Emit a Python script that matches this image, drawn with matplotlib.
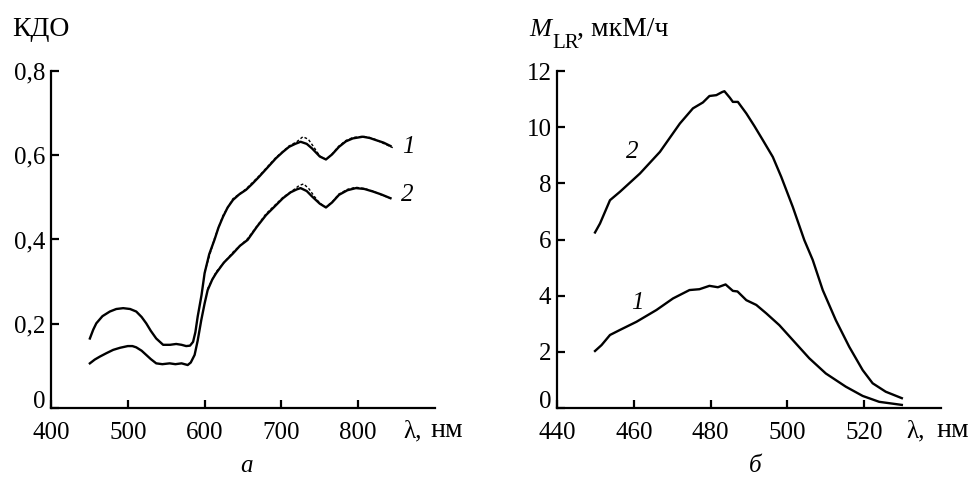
import matplotlib
matplotlib.use("Agg")
import matplotlib.pyplot as plt

# ---------------- data: panel (a) ----------------
lam_a1 = [450.6, 455, 459, 467, 476.6, 485, 494, 503, 511, 518, 524, 530, 537, 546,
          555, 563, 570, 576, 581, 585, 588, 591, 596, 600, 606, 613, 618, 624, 630, 637,
          645, 654, 662, 671, 682, 693, 702, 710, 718, 725, 733, 740, 750, 758, 766,
          775, 784, 793, 806, 815, 823, 833, 842]
kdo_1 = [0.165, 0.186, 0.201, 0.218, 0.229, 0.235, 0.237, 0.235, 0.229, 0.216, 0.201, 0.183, 0.165, 0.150,
         0.150, 0.152, 0.150, 0.147, 0.148, 0.157, 0.180, 0.217, 0.268, 0.320, 0.365, 0.400, 0.428, 0.454, 0.476, 0.494,
         0.507, 0.518, 0.532, 0.549, 0.571, 0.593, 0.608, 0.620, 0.627, 0.632, 0.627, 0.616, 0.597, 0.590, 0.602,
         0.620, 0.633, 0.640, 0.644, 0.641, 0.636, 0.630, 0.622]

lam_a2 = [450.6, 457, 463.6, 472, 481, 490, 500, 506, 511, 518, 524, 530, 537, 545,
          554.5, 562, 570, 578, 582, 587, 591, 595.7, 600, 604, 610, 615, 625, 637,
          646, 656, 668, 680, 691, 702, 712, 720, 725, 733, 740, 750, 758, 766,
          775, 786, 797, 808, 819, 830, 842]
kdo_2 = [0.106, 0.115, 0.122, 0.130, 0.138, 0.143, 0.147, 0.147, 0.144, 0.136, 0.126, 0.116, 0.106, 0.104,
         0.106, 0.104, 0.106, 0.102, 0.108, 0.126, 0.160, 0.209, 0.248, 0.280, 0.305, 0.320, 0.345, 0.367,
         0.385, 0.399, 0.430, 0.458, 0.478, 0.498, 0.512, 0.519, 0.522, 0.515, 0.502, 0.485, 0.476, 0.488,
         0.506, 0.517, 0.522, 0.520, 0.514, 0.507, 0.498]

lam_a1d = [600, 613, 624, 637, 654, 671, 693, 710, 720, 728, 735, 742, 750, 758, 766,
           775, 784, 793, 806, 815, 823, 833, 845]
kdo_1d = [0.322, 0.403, 0.457, 0.497, 0.520, 0.551, 0.595, 0.622, 0.632, 0.644, 0.638, 0.620, 0.598, 0.590, 0.603,
          0.622, 0.635, 0.642, 0.645, 0.642, 0.637, 0.628, 0.618]

lam_a2d = [604, 615, 637, 656, 680, 702, 716, 723, 729, 736, 743, 750, 758, 766,
           775, 786, 797, 808, 819, 830, 845]
kdo_2d = [0.283, 0.323, 0.370, 0.402, 0.461, 0.500, 0.518, 0.528, 0.532, 0.520, 0.502, 0.486, 0.477, 0.489,
          0.508, 0.519, 0.524, 0.521, 0.515, 0.506, 0.496]

xticks_a = [400, 500, 600, 700, 800]
yticks_a = [0, 0.2, 0.4, 0.6, 0.8]
ylabels_a = ["0", "0,2", "0,4", "0,6", "0,8"]

# ---------------- data: panel (б) ----------------
lam_b2 = [449.9, 451.2, 453.8, 456.4, 461.6, 466.8, 472.0, 475.4, 478.0, 479.7, 481.5, 483.0, 483.6,
          485.0, 485.8, 487.1, 489.3, 491.4, 493.6, 496.2, 498.4, 501.4, 504.4, 506.6, 509.2,
          512.6, 516.1, 519.6, 522.2, 525.6, 529.8]
mlr_2 = [6.25, 6.57, 7.40, 7.70, 8.35, 9.12, 10.13, 10.67, 10.88, 11.11, 11.14, 11.25, 11.28,
         11.05, 10.90, 10.90, 10.49, 10.04, 9.54, 8.94, 8.23, 7.16, 5.98, 5.27, 4.20,
         3.13, 2.18, 1.35, 0.88, 0.58, 0.35]

lam_b1 = [449.9, 451.6, 453.8, 456.4, 460.7, 465.9, 470.2, 474.5, 477.1, 479.7, 481.9, 483.9,
          485.8, 487.0, 489.3, 491.9, 494.5, 497.9, 501.4, 505.7, 510.0, 515.2, 519.6, 523.9, 529.8]
mlr_1 = [2.03, 2.24, 2.60, 2.78, 3.07, 3.49, 3.90, 4.20, 4.23, 4.35, 4.30, 4.40,
         4.17, 4.15, 3.84, 3.67, 3.37, 2.95, 2.42, 1.77, 1.23, 0.76, 0.43, 0.22, 0.11]

xticks_b = [440, 460, 480, 500, 520]
yticks_b = [0, 2, 4, 6, 8, 10, 12]

# ---------------- style ----------------
plt.rcParams["font.family"] = ["Liberation Serif", "DejaVu Serif"]
FS = 18
W, H = 971, 479

fig = plt.figure(figsize=(W / 100, H / 100), dpi=100)
fig.patch.set_facecolor("white")


def rect(x0, x1, ytop, ybot):
    return [x0 / W, 1 - ybot / H, (x1 - x0) / W, (ybot - ytop) / H]


def style(ax):
    for s in ("top", "right"):
        ax.spines[s].set_visible(False)
    for s in ("left", "bottom"):
        ax.spines[s].set_linewidth(1.6)
    ax.tick_params(direction="in", length=6, width=1.6, labelsize=FS, pad=4)
    ax.tick_params(axis="x", pad=10)
    # the "0" on the value axis sits on top of the category axis
    ax.get_yticklabels()[0].set_verticalalignment("baseline")


def fx(px):
    return px / W


def fy(py):
    return 1 - py / H


axa = fig.add_axes(rect(51, 435, 71, 408))
axa.plot(lam_a1d, kdo_1d, color="black", lw=1.0, ls=(0, (2, 1.5)))
axa.plot(lam_a2d, kdo_2d, color="black", lw=1.0, ls=(0, (2, 1.5)))
axa.plot(lam_a1, kdo_1, color="black", lw=1.7)
axa.plot(lam_a2, kdo_2, color="black", lw=1.7)
axa.set_xlim(400, 900)
axa.set_ylim(0, 0.8)
axa.set_xticks(xticks_a)
axa.set_yticks(yticks_a)
axa.set_yticklabels(ylabels_a)
style(axa)
axa.text(865.5, 0.62, "1", style="italic", fontsize=FS, ha="center", va="center")
axa.text(863.5, 0.506, "2", style="italic", fontsize=FS, ha="center", va="center")

axb = fig.add_axes(rect(557, 941, 71, 408))
axb.plot(lam_b2, mlr_2, color="black", lw=1.7)
axb.plot(lam_b1, mlr_1, color="black", lw=1.7)
axb.set_xlim(440, 540)
axb.set_ylim(0, 12)
axb.set_xticks(xticks_b)
axb.set_yticks(yticks_b)
style(axb)
axb.text(459.7, 9.11, "2", style="italic", fontsize=FS, ha="center", va="center")
axb.text(461.0, 3.74, "1", style="italic", fontsize=FS, ha="center", va="center")

# axis titles / units
fig.text(fx(12), fy(36), "КДО", fontsize=20, ha="left", va="baseline")

for x_lam, x_nm in ((403, 430), (906, 936)):
    fig.text(fx(x_lam), fy(437), "λ,", fontsize=FS, ha="left", va="baseline")
    fig.text(fx(x_nm), fy(437), "нм", fontsize=20, ha="left", va="baseline")

fig.text(fx(529), fy(36), "M", style="italic", fontsize=19, ha="left", va="baseline")
fig.text(fx(552), fy(48), "LR", fontsize=15, ha="left", va="baseline")
fig.text(fx(577), fy(36), ", мкМ/ч", fontsize=20, ha="left", va="baseline")

fig.text(fx(246), fy(472), "а", style="italic", fontsize=FS, ha="center", va="baseline")
fig.text(fx(755), fy(472), "б", style="italic", fontsize=FS, ha="center", va="baseline")

fig.savefig("out.png", dpi=100, facecolor="white")
